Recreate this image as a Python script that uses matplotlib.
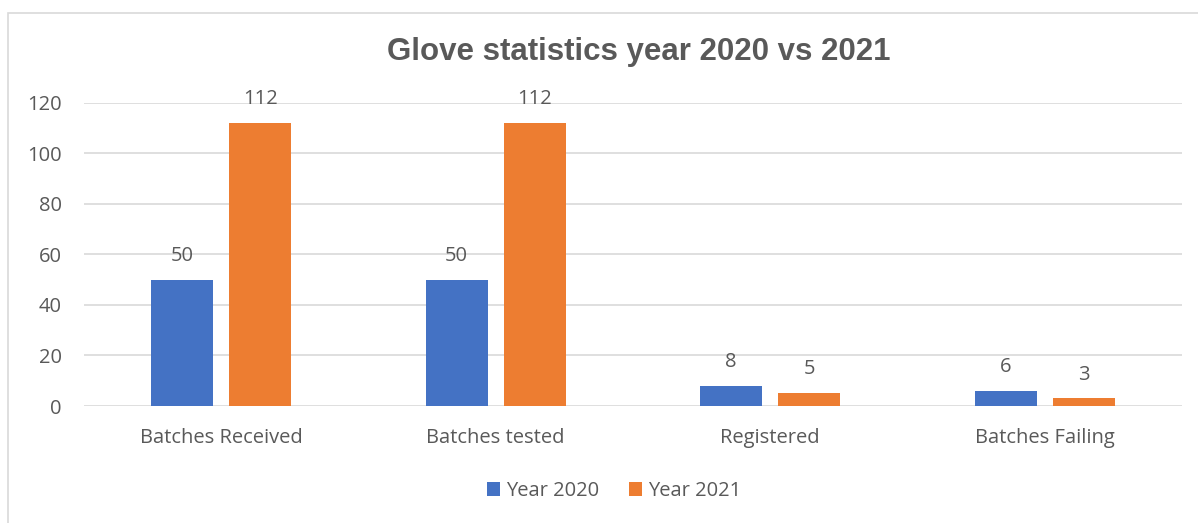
import numpy as np
import matplotlib.pyplot as plt
from matplotlib.patches import Rectangle

categories = ["Batches Received", "Batches tested", "Registered", "Batches Failing"]
year_2020 = [50, 50, 8, 6]
year_2021 = [112, 112, 5, 3]
series_names = ["Year 2020", "Year 2021"]

plt.rcParams['font.family'] = ['Open Sans', 'DejaVu Sans']
text_color = "#595959"

fig = plt.figure(figsize=(11.98, 5.23), dpi=100)
W, H = 1198, 523
ax = fig.add_axes([84 / W, 1 - 406 / H, (1182 - 84) / W, (406 - 102.5) / H])

x = np.arange(len(categories))
width = 0.225
off = 0.1425
b1 = ax.bar(x - off, year_2020, width, color="#4472C4", label=series_names[0], zorder=3)
b2 = ax.bar(x + off, year_2021, width, color="#ED7D31", label=series_names[1], zorder=3)

for bars in (b1, b2):
    ax.bar_label(bars, padding=10, fontsize=14.5, color=text_color)

ax.set_xlim(-0.5, len(categories) - 0.5)
ax.set_ylim(0, 120)
ax.set_yticks(range(0, 121, 20))
ax.set_xticks(x)
ax.set_xticklabels(categories)
ax.tick_params(axis='both', length=0, labelsize=14.5, labelcolor=text_color)
ax.tick_params(axis='x', pad=16)
ax.tick_params(axis='y', pad=16)
ax.grid(axis='y', color="#D9D9D9", linewidth=1.2, zorder=0)
for s in ax.spines.values():
    s.set_visible(False)

fig.text(639 / W, 1 - 52 / H, "Glove statistics year 2020 vs 2021", ha='center', va='center',
         fontsize=22.5, fontweight='bold', color=text_color, family=['Liberation Sans'])

fig.legend(loc='center', bbox_to_anchor=(614 / W, 1 - 491 / H), ncol=2, frameon=False,
           fontsize=14.5, labelcolor=text_color, handlelength=0.65, handleheight=0.65,
           handletextpad=0.3, columnspacing=1.5)

fig.patches.append(Rectangle((7.5 / W, -0.05), 1.1, (1 - 12.5 / H) + 0.05, transform=fig.transFigure,
                             fill=False, edgecolor="#D9D9D9", linewidth=1.2))

fig.savefig("out.png", dpi=100)
